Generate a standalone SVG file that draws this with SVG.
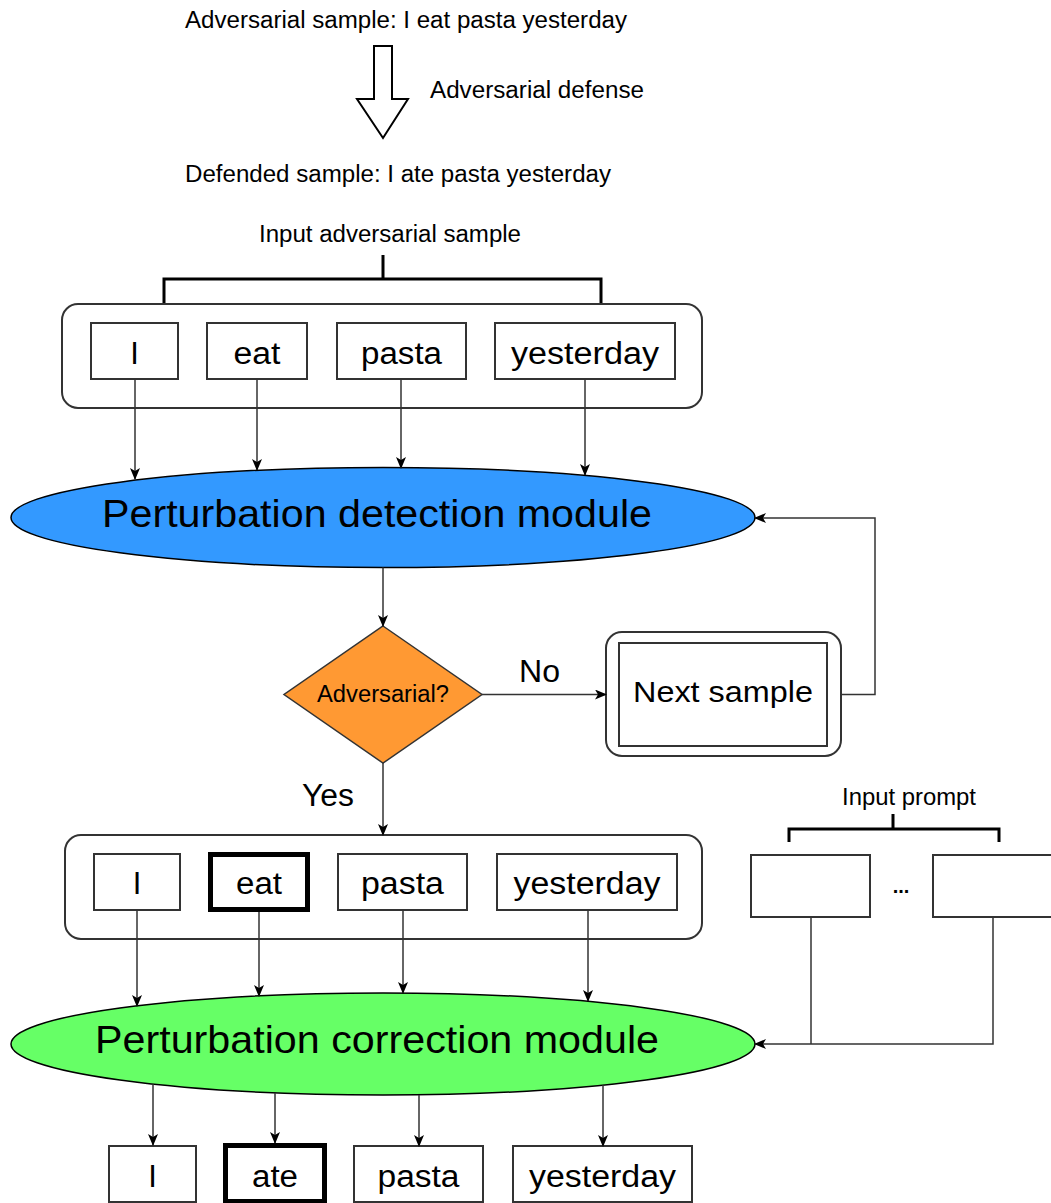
<svg xmlns="http://www.w3.org/2000/svg" width="1051" height="1203" viewBox="0 0 1051 1203">
<defs>
<style>
text{font-family:"Liberation Sans",Arial,sans-serif;fill:#000}
.t24{font-size:23px}
.w{font-size:31px;text-anchor:middle}
.big{font-size:39px;text-anchor:middle}
.box{fill:#fff;stroke:#333;stroke-width:2}
.thick{fill:#fff;stroke:#000;stroke-width:5}
.outer{fill:#fff;stroke:#333;stroke-width:2}
.ln{fill:none;stroke:#333;stroke-width:1.5}
.br{fill:none;stroke:#000;stroke-width:3}
</style>
<marker id="ah" viewBox="0 0 12 10" markerWidth="12" markerHeight="10" refX="11" refY="5" orient="auto" markerUnits="userSpaceOnUse">
<path d="M0,0 L12,5 L0,10 L3,5 z" fill="#000"/>
</marker>
</defs>
<rect width="1051" height="1203" fill="#fff"/>

<g id="header">
<text class="t24" x="185" y="28" textLength="442" lengthAdjust="spacingAndGlyphs">Adversarial sample: I eat pasta yesterday</text>
<polygon points="374,46 392,46 392,99 408,99 383,138 357,99 374,99" fill="#fff" stroke="#000" stroke-width="2"/>
<text class="t24" x="430" y="98" textLength="214" lengthAdjust="spacingAndGlyphs">Adversarial defense</text>
<text class="t24" x="185" y="182" textLength="426" lengthAdjust="spacingAndGlyphs">Defended sample: I ate pasta yesterday</text>
</g>

<g id="input-sample">
<text class="t24" x="259" y="242" textLength="262" lengthAdjust="spacingAndGlyphs">Input adversarial sample</text>
<path class="br" d="M164,304 V279 H601 V304 M383,255 V279"/>
<rect class="outer" x="62" y="304" width="640" height="104" rx="16"/>
<rect class="box" x="91" y="323" width="87" height="56"/>
<text class="w" x="134.5" y="364">I</text>
<rect class="box" x="207" y="323" width="100" height="56"/>
<text class="w" x="257" y="364" textLength="47" lengthAdjust="spacingAndGlyphs">eat</text>
<rect class="box" x="337" y="323" width="129" height="56"/>
<text class="w" x="401.5" y="364" textLength="81" lengthAdjust="spacingAndGlyphs">pasta</text>
<rect class="box" x="495" y="323" width="180" height="56"/>
<text class="w" x="585" y="364" textLength="148" lengthAdjust="spacingAndGlyphs">yesterday</text>
</g>

<g id="detection">
<ellipse cx="383" cy="517.5" rx="372" ry="50" fill="#3399ff" stroke="#000" stroke-width="1.5"/>
<text class="big" x="377" y="527" textLength="550" lengthAdjust="spacingAndGlyphs">Perturbation detection module</text>
</g>

<g id="decision">
<polygon points="383,626 482,694.5 383,763 284,694.5" fill="#ff9933" stroke="#333" stroke-width="1.5"/>
<text style="font-size:23px;text-anchor:middle" x="383" y="702" textLength="132" lengthAdjust="spacingAndGlyphs">Adversarial?</text>
</g>

<g id="next-sample">
<rect class="outer" x="606" y="632" width="235" height="124" rx="16"/>
<rect class="box" x="619" y="643" width="208" height="103"/>
<text style="font-size:30px" x="633" y="702" textLength="180" lengthAdjust="spacingAndGlyphs">Next sample</text>
</g>

<g id="corrected-input">
<rect class="outer" x="65" y="835" width="637" height="104" rx="16"/>
<rect class="box" x="94" y="854" width="86" height="56"/>
<text class="w" x="137" y="894">I</text>
<rect class="thick" x="210.5" y="854.5" width="97" height="55"/>
<text class="w" x="259" y="894" textLength="46" lengthAdjust="spacingAndGlyphs">eat</text>
<rect class="box" x="338" y="854" width="129" height="56"/>
<text class="w" x="402.5" y="894" textLength="83" lengthAdjust="spacingAndGlyphs">pasta</text>
<rect class="box" x="497" y="854" width="180" height="56"/>
<text class="w" x="587" y="894" textLength="147" lengthAdjust="spacingAndGlyphs">yesterday</text>
</g>

<g id="input-prompt">
<text class="t24" x="842" y="805" textLength="134" lengthAdjust="spacingAndGlyphs">Input prompt</text>
<path class="br" d="M789,842 V829 H999 V842 M893,814 V829"/>
<rect class="box" x="751" y="855" width="119" height="62"/>
<text x="901" y="893" style="font-size:20px;font-weight:bold;text-anchor:middle">...</text>
<rect class="box" x="933" y="855" width="130" height="62"/>
</g>

<g id="correction">
<ellipse cx="383" cy="1044" rx="372" ry="51" fill="#66ff66" stroke="#000" stroke-width="1.5"/>
<text class="big" x="377" y="1053" textLength="564" lengthAdjust="spacingAndGlyphs">Perturbation correction module</text>
</g>

<g id="output">
<rect class="box" x="109" y="1146" width="87" height="56"/>
<text class="w" x="152.5" y="1187">I</text>
<rect class="thick" x="225.5" y="1145.5" width="99" height="56"/>
<text class="w" x="275" y="1187" textLength="46" lengthAdjust="spacingAndGlyphs">ate</text>
<rect class="box" x="354" y="1146" width="129" height="56"/>
<text class="w" x="418.5" y="1187" textLength="82" lengthAdjust="spacingAndGlyphs">pasta</text>
<rect class="box" x="513" y="1146" width="179" height="56"/>
<text class="w" x="602.5" y="1187" textLength="147" lengthAdjust="spacingAndGlyphs">yesterday</text>
</g>

<g id="connectors">
<path class="ln" d="M135,379 V479" marker-end="url(#ah)"/>
<path class="ln" d="M257,379 V470" marker-end="url(#ah)"/>
<path class="ln" d="M401,379 V468" marker-end="url(#ah)"/>
<path class="ln" d="M585,379 V475" marker-end="url(#ah)"/>
<path class="ln" d="M383,567.5 V626" marker-end="url(#ah)"/>
<path class="ln" d="M482,694.5 H606" marker-end="url(#ah)"/>
<text style="font-size:31px" x="519" y="682" textLength="41" lengthAdjust="spacingAndGlyphs">No</text>
<path class="ln" d="M841,694.5 H875 V518 H755" marker-end="url(#ah)"/>
<path class="ln" d="M383,763 V835" marker-end="url(#ah)"/>
<text style="font-size:31px" x="302" y="806" textLength="52" lengthAdjust="spacingAndGlyphs">Yes</text>
<path class="ln" d="M137,910 V1006" marker-end="url(#ah)"/>
<path class="ln" d="M259,912 V996" marker-end="url(#ah)"/>
<path class="ln" d="M403,910 V993" marker-end="url(#ah)"/>
<path class="ln" d="M588,910 V1001" marker-end="url(#ah)"/>
<path class="ln" d="M811,917 V1044"/>
<path class="ln" d="M993,917 V1044 H755" marker-end="url(#ah)"/>
<path class="ln" d="M153,1084 V1145" marker-end="url(#ah)"/>
<path class="ln" d="M275,1093 V1143" marker-end="url(#ah)"/>
<path class="ln" d="M419,1095 V1146" marker-end="url(#ah)"/>
<path class="ln" d="M603,1085 V1146" marker-end="url(#ah)"/>
</g>
</svg>
